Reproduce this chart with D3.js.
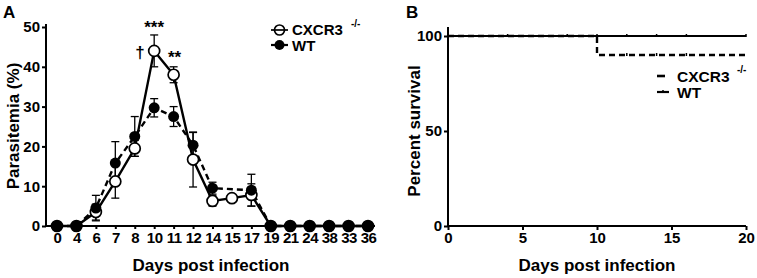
<!DOCTYPE html>
<html lang="en">
<head>
   <meta charset="UTF-8">
   <title>Parasitemia and survival</title>
   <script src="https://cdn.jsdelivr.net/npm/d3@7"></script>
   <style>
      body { margin: 0; background: white; }
      svg { font-family: 'Liberation Sans', Arial, sans-serif; font-weight: bold; }
      .tick text { font-size: 15px; font-weight: bold; font-family: 'Liberation Sans', Arial, sans-serif; }
      .domain, .tick line { stroke: black; stroke-width: 2; }
   </style>
</head>
<body>
<svg width="757" height="278"></svg>
<script>
   // panel A data
   const daysA = ['0', '4', '6', '7', '8', '10', '11', '12', '14', '15', '17', '19', '21', '24', '38', '33', '36']
   const cxcr3Mean = [0, 0, 3.5, 11.2, 19.5, 44, 38, 16.7, 6.3, 7, 7.8, 0, 0, 0, 0, 0, 0]
   const cxcr3Err = [0, 0, 2, 4.2, 2, 4, 2, 6.9, 1.3, 0, 2.8, 0, 0, 0, 0, 0, 0]
   const wtMean = [0, 0, 4.5, 15.8, 22.5, 29.7, 27.5, 20.3, 9.5, null, 9, 0, 0, 0, 0, 0, 0]
   const wtErr = [0, 0, 3.2, 5.4, 5, 2.3, 2.5, 3.2, 1.5, 0, 4, 0, 0, 0, 0, 0, 0]
   const yTicksA = [0, 10, 20, 30, 40, 50]

   // panel B data
   const survTicksX = [0, 5, 10, 15, 20]
   const survTicksY = [0, 50, 100]
   const wtSurv = [[0, 100], [20, 100]]
   const cxcr3Surv = [[0, 100], [10, 100], [10, 90], [20, 90]]
   const wtCensor = [4, 8, 10, 12, 14, 16, 20]
   const cxcr3Censor = [12, 14, 16]

   const svg = d3.select('svg')

   // ---------- A ----------
   const xA = d3.scalePoint().domain(daysA).range([57, 368])
   const yA = d3.scaleLinear().domain([0, 50]).range([226, 27])
   const a = svg.append('g')

   a.append('g')
      .attr('transform', 'translate(46,0)')
      .call(d3.axisLeft(yA).tickValues(yTicksA).tickSize(4).tickPadding(2).tickSizeOuter(0))
      .call(g => g.select('.domain').attr('d', 'M0,226V24'))

   a.append('g')
      .attr('transform', 'translate(0,226)')
      .call(d3.axisBottom(xA).tickSize(3).tickPadding(3).tickSizeOuter(0))
      .call(g => g.select('.domain').attr('d', 'M45,0H375'))
      .call(g => g.selectAll('.tick text').attr('letter-spacing', -0.5))

   a.append('text').text('A').attr('x', 3).attr('y', 18).attr('font-size', 17)
   a.append('text').text('Days post infection')
      .attr('x', 211).attr('y', 271).attr('text-anchor', 'middle').attr('font-size', 17)
   a.append('text').text('Parasitemia (%)')
      .attr('transform', 'translate(19,126) rotate(-90)').attr('text-anchor', 'middle').attr('font-size', 17)

   const rows = daysA.map((d, i) => ({ d, c: cxcr3Mean[i], ce: cxcr3Err[i], w: wtMean[i], we: wtErr[i] }))

   // error bars
   const drawErr = (key, errKey) => {
      const eb = a.append('g').attr('stroke', 'black').attr('stroke-width', 1.3)
      rows.filter(r => r[key] != null && r[errKey] > 0).forEach(r => {
         const x = xA(r.d)
         const y1 = yA(r[key] - r[errKey])
         const y2 = yA(r[key] + r[errKey])
         eb.append('line').attr('x1', x).attr('x2', x).attr('y1', y1).attr('y2', y2)
         eb.append('line').attr('x1', x - 4).attr('x2', x + 4).attr('y1', y1).attr('y2', y1)
         eb.append('line').attr('x1', x - 4).attr('x2', x + 4).attr('y1', y2).attr('y2', y2)
      })
   }
   drawErr('w', 'we')
   drawErr('c', 'ce')

   const lineW = d3.line().x(r => xA(r.d)).y(r => yA(r.w))
   const lineC = d3.line().x(r => xA(r.d)).y(r => yA(r.c))

   a.append('path').datum(rows.filter(r => r.w != null)).attr('d', lineW)
      .attr('fill', 'none').attr('stroke', 'black').attr('stroke-width', 2.4).attr('stroke-dasharray', '6,4')
   a.append('path').datum(rows).attr('d', lineC)
      .attr('fill', 'none').attr('stroke', 'black').attr('stroke-width', 2.4)

   a.append('g').selectAll('circle').data(rows).join('circle')
      .attr('cx', r => xA(r.d)).attr('cy', r => yA(r.c)).attr('r', 5.5)
      .attr('fill', 'white').attr('stroke', 'black').attr('stroke-width', 1.7)
   a.append('g').selectAll('circle').data(rows.filter(r => r.w != null)).join('circle')
      .attr('cx', r => xA(r.d)).attr('cy', r => yA(r.w)).attr('r', 5.5)
      .attr('fill', 'black')

   // significance marks
   a.append('text').text('***').attr('x', xA('10')).attr('y', 33).attr('text-anchor', 'middle').attr('font-size', 17)
   a.append('text').text('†').attr('x', 140).attr('y', 58).attr('text-anchor', 'middle').attr('font-size', 17)
   a.append('text').text('**').attr('x', xA('11') + 1).attr('y', 63).attr('text-anchor', 'middle').attr('font-size', 17)

   // legend A
   const lgA = a.append('g')
   lgA.append('line').attr('x1', 271).attr('x2', 288).attr('y1', 30).attr('y2', 30).attr('stroke', 'black').attr('stroke-width', 1.7)
   lgA.append('circle').attr('cx', 279.5).attr('cy', 30).attr('r', 5).attr('fill', 'none').attr('stroke', 'black').attr('stroke-width', 1.7)
   lgA.append('line').attr('x1', 271).attr('x2', 288).attr('y1', 45).attr('y2', 45).attr('stroke', 'black').attr('stroke-width', 2.2)
   lgA.append('circle').attr('cx', 279.5).attr('cy', 45).attr('r', 5).attr('fill', 'black')
   lgA.append('text').text('CXCR3').attr('x', 292).attr('y', 35).attr('font-size', 15)
   lgA.append('text').text('-/-').attr('x', 351).attr('y', 27).attr('font-size', 10)
   lgA.append('text').text('WT').attr('x', 292).attr('y', 51).attr('font-size', 15)

   // ---------- B ----------
   const xB = d3.scaleLinear().domain([0, 20]).range([448, 746])
   const yB = d3.scaleLinear().domain([0, 100]).range([226, 36])
   const b = svg.append('g')

   b.append('g')
      .attr('transform', 'translate(448,0)')
      .call(d3.axisLeft(yB).tickValues(survTicksY).tickSize(4).tickPadding(2).tickSizeOuter(0))
      .call(g => g.select('.domain').attr('d', 'M0,227V27'))
   b.append('g')
      .attr('transform', 'translate(0,226)')
      .call(d3.axisBottom(xB).tickValues(survTicksX).tickSize(4).tickPadding(2).tickSizeOuter(0))
      .call(g => g.select('.domain').attr('d', 'M447,0H746'))

   b.append('text').text('B').attr('x', 406).attr('y', 18).attr('font-size', 17)
   b.append('text').text('Days post infection')
      .attr('x', 597).attr('y', 271).attr('text-anchor', 'middle').attr('font-size', 17)
   b.append('text').text('Percent survival')
      .attr('transform', 'translate(420,131) rotate(-90)').attr('text-anchor', 'middle').attr('font-size', 17)

   const lineB = d3.line().x(d => xB(d[0])).y(d => yB(d[1]))
   b.append('path').datum(cxcr3Surv).attr('d', lineB)
      .attr('fill', 'none').attr('stroke', 'black').attr('stroke-width', 2.4).attr('stroke-dasharray', '6,4')
   b.append('path').datum(wtSurv).attr('d', lineB)
      .attr('fill', 'none').attr('stroke', 'black').attr('stroke-width', 2.2)

   b.append('g').selectAll('line').data(wtCensor).join('line')
      .attr('x1', d => xB(d)).attr('x2', d => xB(d))
      .attr('y1', yB(100) - 2).attr('y2', yB(100) + 1)
      .attr('stroke', 'black').attr('stroke-width', 1.5)
   b.append('g').selectAll('line').data(cxcr3Censor).join('line')
      .attr('x1', d => xB(d)).attr('x2', d => xB(d))
      .attr('y1', yB(90) - 2).attr('y2', yB(90) + 1)
      .attr('stroke', 'black').attr('stroke-width', 1.5)

   // legend B
   const lgB = b.append('g')
   lgB.append('line').attr('x1', 657).attr('x2', 665).attr('y1', 76).attr('y2', 76).attr('stroke', 'black').attr('stroke-width', 2.6)
   lgB.append('line').attr('x1', 657).attr('x2', 669).attr('y1', 92).attr('y2', 92).attr('stroke', 'black').attr('stroke-width', 2.2)
   lgB.append('line').attr('x1', 663).attr('x2', 663).attr('y1', 90).attr('y2', 93).attr('stroke', 'black').attr('stroke-width', 1.5)
   lgB.append('text').text('CXCR3').attr('x', 677).attr('y', 81.5).attr('font-size', 15.5)
   lgB.append('text').text('-/-').attr('x', 737).attr('y', 73).attr('font-size', 10)
   lgB.append('text').text('WT').attr('x', 677).attr('y', 98).attr('font-size', 15.5)
</script>
</body>
</html>
